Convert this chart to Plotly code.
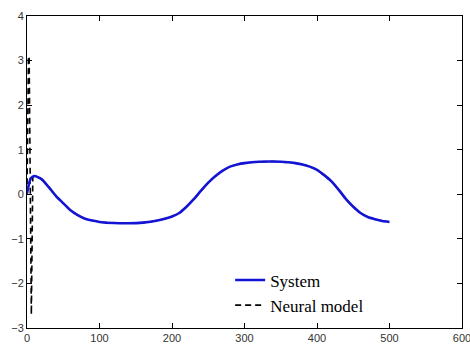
import plotly.graph_objects as go

# System response
sys_x = [0, 5, 10, 20, 30, 40, 50, 60, 70, 80, 90, 100, 120, 140, 160, 180, 190, 200, 210, 220, 230, 240, 250, 260, 270, 280, 290, 300, 320, 340, 360, 370, 380, 390, 400, 410, 420, 430, 440, 450, 460, 470, 480, 490, 500]
sys_y = [0.02, 0.35, 0.41, 0.34, 0.16, -0.04, -0.2, -0.36, -0.47, -0.55, -0.59, -0.62, -0.645, -0.65, -0.635, -0.59, -0.55, -0.5, -0.42, -0.28, -0.11, 0.08, 0.26, 0.41, 0.53, 0.62, 0.67, 0.70, 0.73, 0.735, 0.72, 0.70, 0.67, 0.62, 0.55, 0.43, 0.29, 0.10, -0.11, -0.28, -0.42, -0.51, -0.56, -0.60, -0.62]

# Neural model response (initial transient, then follows system)
nn_x = [0, 2, 3, 6, 8, 10, 20, 30, 40, 50, 60, 70, 80, 90, 100, 120, 140, 160, 180, 190, 200, 210, 220, 230, 240, 250, 260, 270, 280, 290, 300, 320, 340, 360, 370, 380, 390, 400, 410, 420, 430, 440, 450, 460, 470, 480, 490, 500]
nn_y = [0.0, 3.1, 3.05, -2.7, 0.38, 0.41, 0.34, 0.16, -0.04, -0.2, -0.36, -0.47, -0.55, -0.59, -0.62, -0.645, -0.65, -0.635, -0.59, -0.55, -0.5, -0.42, -0.28, -0.11, 0.08, 0.26, 0.41, 0.53, 0.62, 0.67, 0.70, 0.73, 0.735, 0.72, 0.70, 0.67, 0.62, 0.55, 0.43, 0.29, 0.10, -0.11, -0.28, -0.42, -0.51, -0.56, -0.60, -0.62]

x_ticks = [0, 100, 200, 300, 400, 500, 600]
y_ticks = [-3, -2, -1, 0, 1, 2, 3, 4]

fig = go.Figure()
fig.add_trace(go.Scatter(x=nn_x, y=nn_y, mode="lines", name="Neural model",
                         line=dict(color="black", width=1.6, dash="6px,4px"),
                         legendrank=2))
fig.add_trace(go.Scatter(x=sys_x, y=sys_y, mode="lines", name="System",
                         line=dict(color="#1414d4", width=2.6, shape="spline", smoothing=0.6),
                         legendrank=1))

axis_common = dict(showline=True, linecolor="black", linewidth=1, mirror="ticks",
                   ticks="inside", ticklen=5, tickcolor="black", showgrid=False,
                   zeroline=False, automargin=False, ticklabeloverflow="allow",
                   tickfont=dict(family="Liberation Sans, Arial", size=11, color="#333"))

fig.update_layout(
    width=470, height=344,
    margin=dict(l=27, r=8, t=16, b=16),
    paper_bgcolor="white", plot_bgcolor="white",
    xaxis=dict(range=[0, 600], tickvals=x_ticks, **axis_common),
    yaxis=dict(range=[-3, 4], tickvals=y_ticks, **axis_common),
    legend=dict(x=0.467, y=0.21, xanchor="left", yanchor="top",
                bgcolor="rgba(0,0,0,0)", borderwidth=0,
                font=dict(family="Liberation Serif, Times New Roman", size=17, color="black"),
                tracegroupgap=0, itemwidth=30),
    showlegend=True,
)

fig.write_html("out.html",
               config={"displayModeBar": False},
               post_script="document.body.style.margin='0';document.body.style.overflow='hidden';")
